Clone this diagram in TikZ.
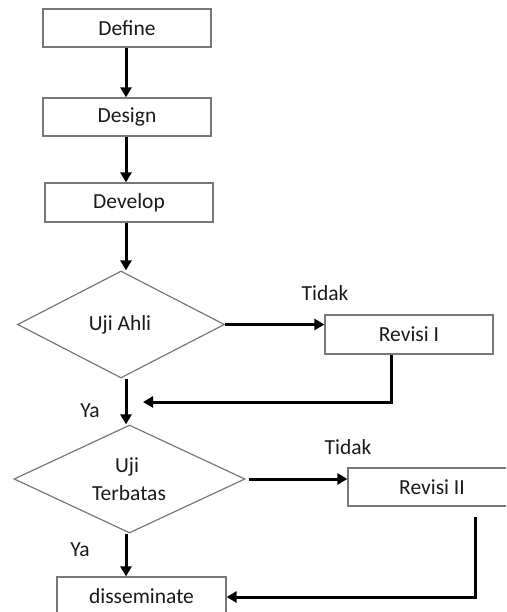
\documentclass[tikz,border=0pt]{standalone}
\usepackage{fontspec}
\setmainfont{Carlito}
\usetikzlibrary{arrows.meta,shapes.geometric,calc}
\definecolor{boxline}{RGB}{120,120,120}
\definecolor{txt}{RGB}{25,25,30}
\begin{document}
\begin{tikzpicture}[x=1pt,y=-1pt,
  font=\fontsize{21.5}{26}\selectfont,
  stepbox/.style={draw=boxline,line width=1.2pt,fill=white,text=txt,minimum width=168pt,minimum height=38pt,inner sep=0pt},
  decide/.style={diamond,draw=boxline,line width=1.2pt,text=txt,inner sep=0pt,align=center},
  flow/.style={line width=3pt,-{Triangle[length=10pt,width=11pt]}},
  lbl/.style={text=txt,inner sep=0pt},
]
\useasboundingbox (0,0) rectangle (506,612);
\fill[white] (0,0) rectangle (506,612);
\clip (0,0) rectangle (506,612);
\coordinate (col) at (126,0);
\node[stepbox] (def) at (127,28) {Define};
\node[stepbox] (des) at (127,117) {Design};
\node[stepbox,minimum height=39pt] (dev) at (129,202.5) {Develop};
\node[decide,minimum width=207pt,minimum height=107pt] (ua) at (121,324.5) {};
\node[lbl] (uatxt) at (120,325) {Uji Ahli};
\node[stepbox,minimum height=39pt] (r1) at (409,334.5) {Revisi I};
\node[decide,minimum width=231pt,minimum height=108pt] (ut) at (129.5,479) {};
\node[lbl] (uttxt1) at (127,467) {Uji};
\node[lbl] (uttxt2) at (129,493) {Terbatas};
\node[stepbox] (r2) at (432,487) {Revisi II};
\node[stepbox,minimum width=169pt] (dis) at (141.5,596) {disseminate};
\node[lbl] (t1) at (325,293) {Tidak};
\node[lbl] (t2) at (348,447) {Tidak};
\node[lbl] (y1) at (90,411) {Ya};
\node[lbl] (y2) at (80,550) {Ya};
\coordinate (back1) at (143,402);
\coordinate (r2out) at (475,517);
\coordinate (r2corner) at (475,597);
\draw[flow] (def.south -| col) -- (des.north -| col);
\draw[flow] (des.south -| col) -- (dev.north -| col);
\draw[flow] (dev.south -| col) -- (ua.north -| col);
\draw[flow] (ua.east) -- (ua.east -| r1.west);
\draw[flow] (r1.south -| 391,0) |- (back1);
\draw[flow] (ua.south -| col) -- (ut.north -| col);
\draw[flow] ($(ut.east)+(3,0)$) -- (ut.east -| r2.west);
\draw[flow] (r2out) -- (r2corner) -- (r2corner -| dis.east);
\draw[flow] (ut.south -| col) -- (dis.north -| col);
\end{tikzpicture}
\end{document}
